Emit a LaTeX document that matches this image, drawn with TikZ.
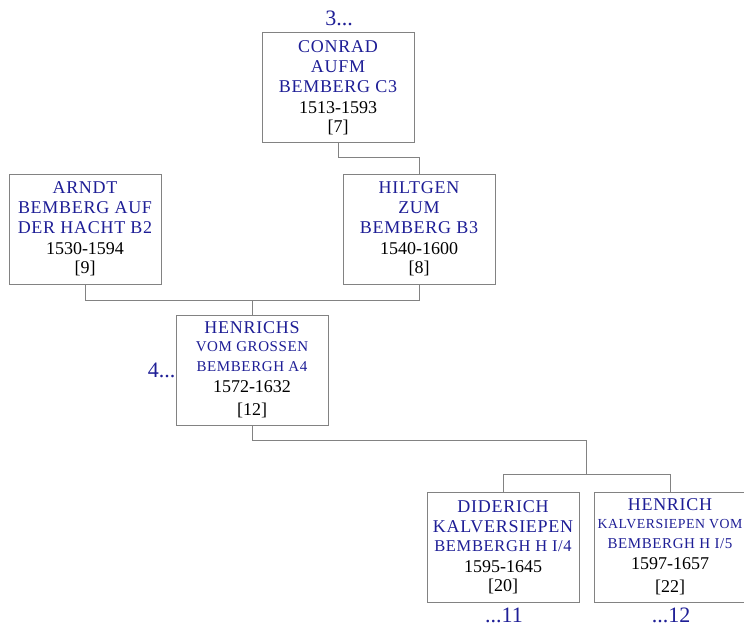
\documentclass[tikz,border=0pt]{standalone}
\usepackage{fontspec}
\setmainfont{Liberation Serif}
\newfontfamily\namefont[LetterSpace=4]{Liberation Serif}
\usetikzlibrary{calc}
\definecolor{nameblue}{RGB}{30,30,150}
\definecolor{boxgray}{RGB}{130,130,130}
\tikzset{
  person/.style={draw=boxgray, line width=0.9pt, minimum width=152pt, minimum height=110pt,
    inner sep=0pt, align=center, fill=white, font=\fontsize{18}{20}\selectfont},
  link/.style={draw=boxgray, line width=0.9pt},
  more/.style={text=nameblue, font=\fontsize{22}{24}\selectfont, inner sep=0pt},
}
\newcommand{\nm}[1]{\textcolor{nameblue}{\namefont #1}}
\newcommand{\sm}[1]{\textcolor{nameblue}{\namefont\fontsize{15}{18}\selectfont #1}}
\begin{document}
\begin{tikzpicture}[x=1pt,y=1pt]
\useasboundingbox (0,0) rectangle (744,-631);
\node[person] (conrad) at (338,-87.5) {\nm{CONRAD}\\\nm{AUFM}\\\nm{BEMBERG C3}\\[1pt]1513-1593\\[-1pt][7]};
\node[person] (arndt) at (85,-229) {\nm{ARNDT}\\\nm{BEMBERG AUF}\\\nm{DER HACHT B2}\\[1pt]1530-1594\\[-1pt][9]};
\node[person] (hiltgen) at (419,-229) {\nm{HILTGEN}\\\nm{ZUM}\\\nm{BEMBERG B3}\\[1pt]1540-1600\\[-1pt][8]};
\node[person] (henrichs) at (252,-370) {\nm{HENRICHS}\\[-2pt]\sm{VOM GROSSEN}\\\sm{BEMBERGH A4}\\[1pt]1572-1632\\[3pt][12]};
\node[person] (diderich) at (503,-547) {\nm{DIDERICH}\\\nm{KALVERSIEPEN}\\[-1pt]\sm{\fontsize{16.5}{18}\selectfont BEMBERGH H I/4}\\[1pt]1595-1645\\[-1pt][20]};
\node[person] (henrich) at (670,-547) {\nm{HENRICH}\\[-2pt]\sm{\fontsize{13.8}{18}\selectfont KALVERSIEPEN VOM}\\\sm{BEMBERGH H I/5}\\[1pt]1597-1657\\[3pt][22]};
\node[more] (m3) at (339,-18) {3...};
\node[more, anchor=east] (m4) at (henrichs.west) {4...\hspace{4pt}};
\node[more] (m11) at (504,-615) {...11};
\node[more] (m12) at (671,-615) {...12};
\coordinate (j0) at ($(hiltgen.north)+(0,16)$);
\draw[link] (conrad.south) |- (j0) -- (hiltgen.north);
\coordinate (j1) at ($(arndt.south)!.5!(hiltgen.south)+(0,-16)$);
\draw[link] (arndt.south) |- (j1) -| (hiltgen.south);
\draw[link] (j1) -- (henrichs.north);
\coordinate (j2) at ($(diderich.north)!.5!(henrich.north)+(0,17)$);
\draw[link] (henrichs.south) |- ($(j2)+(0,34)$) -- (j2);
\draw[link] (diderich.north) |- (j2) -| (henrich.north);
\end{tikzpicture}
\end{document}
